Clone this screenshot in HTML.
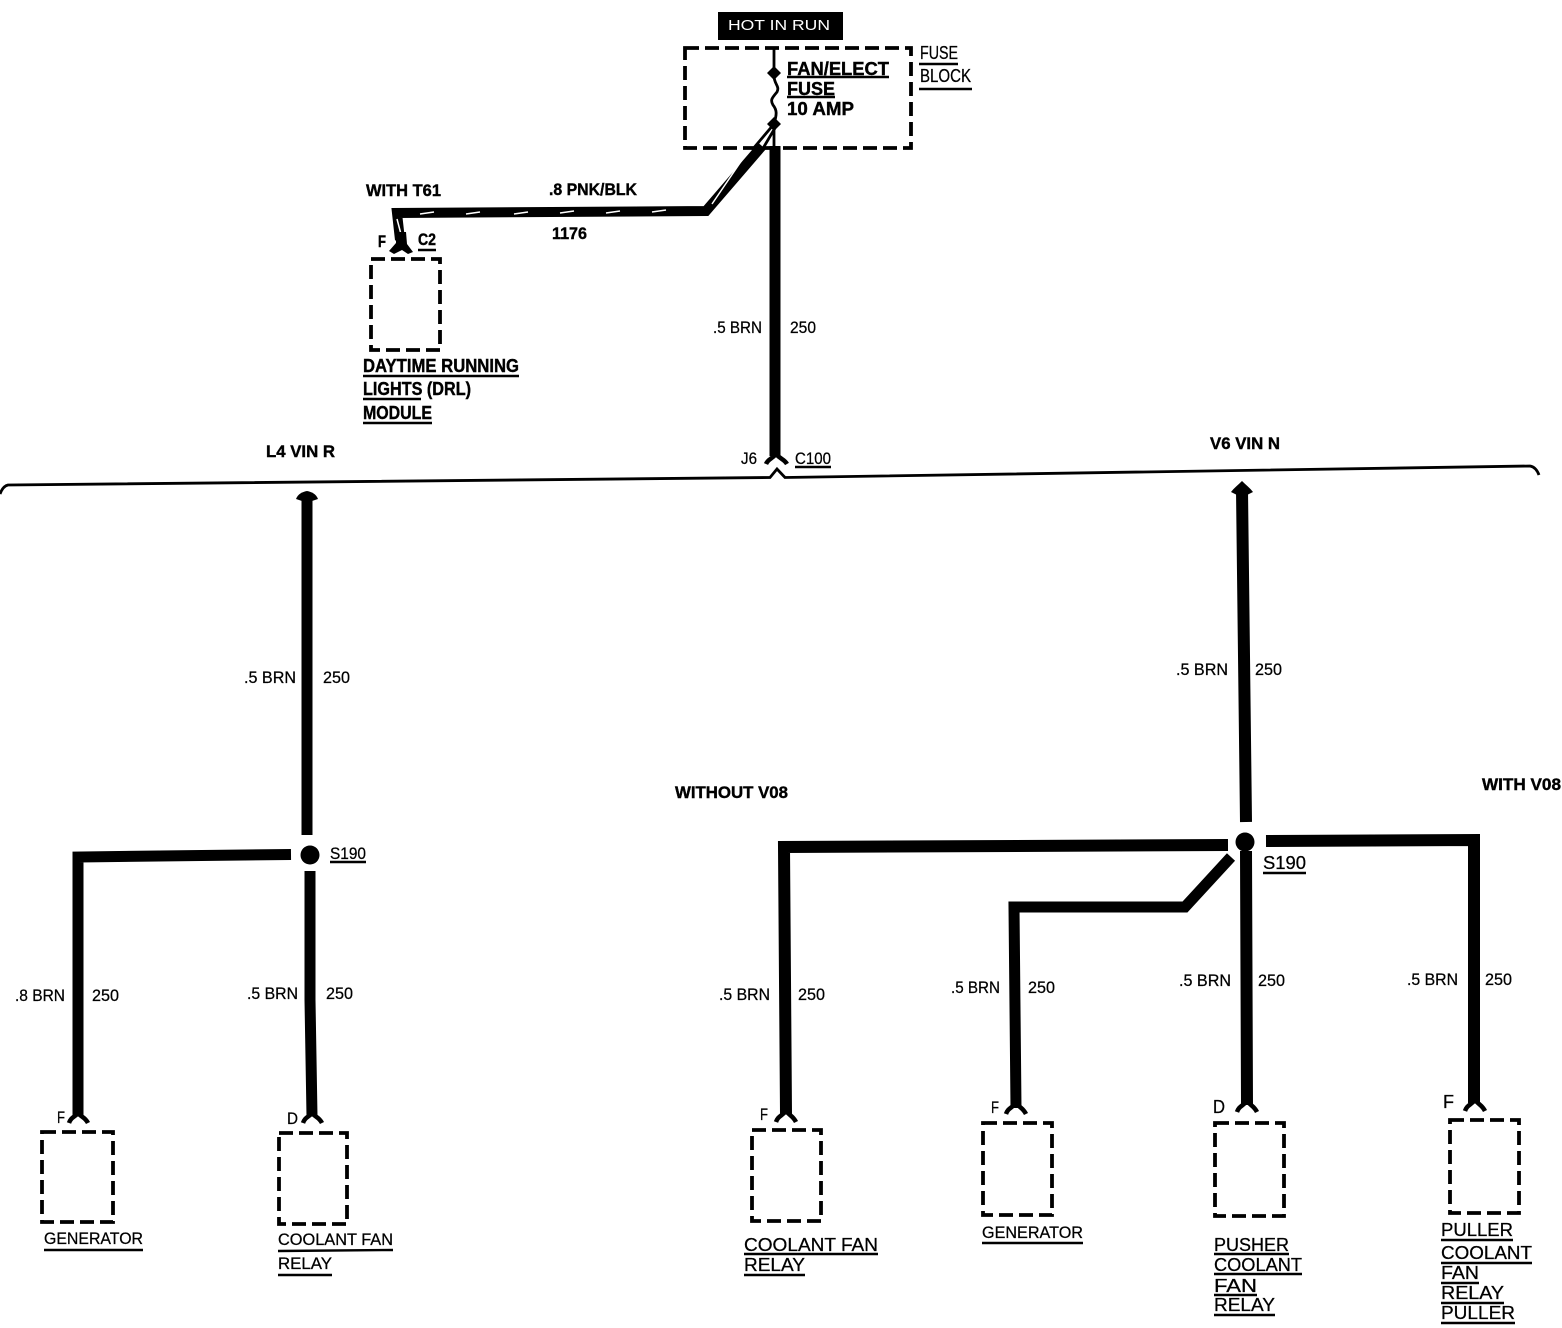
<!DOCTYPE html>
<html><head><meta charset="utf-8"><style>
html,body{margin:0;padding:0;background:#fff}
svg{display:block}
text{font-family:"Liberation Sans",sans-serif;font-size:16.500px;fill:#000;stroke:#000;stroke-width:.25}
.b{font-weight:bold;stroke-width:.4}
.l{font-size:18px}
.w{fill:none;stroke:#000;stroke-width:11}
.d{fill:none;stroke:#000;stroke-width:3.800;stroke-dasharray:14 6}
.u{fill:none;stroke:#000;stroke-width:2.400}
.f{fill:none;stroke:#000;stroke-width:4.500}
</style></head><body>
<svg width="1562" height="1328" viewBox="0 0 1562 1328" xmlns="http://www.w3.org/2000/svg">
<rect width="1562" height="1328" fill="#fff"/>
<!-- top -->
<rect x="718" y="12" width="125" height="28" fill="#000"/>
<text x="728" y="30" textLength="102" lengthAdjust="spacingAndGlyphs" style="fill:#fff;stroke:none;font-size:15px">HOT IN RUN</text>
<rect class="d" x="685" y="48" width="226" height="100"/>
<path d="M774 48V70M774 76C774 84 780 86 777 92C772 98 770 100 773 105C777 110 777 114 774 124V148M774 124L752 150M775 128L762 150" fill="none" stroke="#000" stroke-width="2.800"/>
<path d="M774 66L781 73L774 80L767 73ZM774 117L781 124L774 131L767 124Z"/>
<path class="w" d="M775 146V456"/>
<path class="f" d="M766 464C768 459 772 459 776 454C780 459 784 459 787 464"/>
<path d="M0 494Q3 486 8 485L770 477.500L777 469L785 477.500L1530 466Q1536 467 1539 475" fill="none" stroke="#000" stroke-width="2.800"/>
<!-- DRL wire -->
<path d="M762 146L706 211L397 213L400 240" fill="none" stroke="#000" stroke-width="10"/>
<path d="M744 157L712 204M397 219L402 238" fill="none" stroke="#fff" stroke-width="1.500"/>
<path d="M420 214l14 -2M466 214l14 -2M514 214l14 -2M560 213l14 -2M606 213l14 -2M652 212l14 -2" stroke="#fff" stroke-width="1.500"/>
<path d="M396 232L406 232L407 244L413 252L408 254L402 250L394 254L389 251L396 243Z"/>
<rect class="d" x="371" y="259" width="69" height="91"/>
<!-- left -->
<path class="w" d="M307 495V835"/>
<path d="M296 499C298 494 302 492 307 491C312 492 316 494 318 499L312 501H302Z"/>
<circle cx="310" cy="855" r="9.500"/>
<path class="w" d="M291 854.500L78 857V1116M310 871V1000L312 1116"/>
<path class="f" d="M69 1123C71 1117 75 1117 78 1113C81 1117 85 1117 88 1123"/>
<path class="f" d="M303 1123C305 1117 309 1117 312 1113C315 1117 319 1117 322 1123"/>
<rect class="d" x="42" y="1132" width="71" height="90"/>
<rect class="d" x="279" y="1133" width="68" height="91"/>
<!-- right -->
<path d="M1242 490L1246 822M1266 841L1474 840V1103M1228 845L784 847L786 1114M1246 851L1247 1105" fill="none" stroke="#000" stroke-width="12"/>
<path d="M1231 492C1234 488 1238 485 1242 481C1246 485 1250 488 1253 492L1247 495H1237Z"/>
<circle cx="1245" cy="842" r="9.500"/>
<path d="M1231 857L1185 907L1014 907L1016 1108" fill="none" stroke="#000" stroke-width="11"/>
<path class="f" d="M776 1122C778 1116 782 1116 786 1111C790 1116 793 1116 796 1122"/>
<path class="f" d="M1006 1114C1008 1108 1012 1108 1016 1103C1020 1108 1023 1108 1026 1114"/>
<path class="f" d="M1237 1112C1239 1106 1243 1106 1247 1101C1251 1106 1254 1106 1257 1112"/>
<path class="f" d="M1465 1111C1467 1105 1471 1105 1475 1100C1479 1105 1482 1105 1485 1111"/>
<rect class="d" x="752" y="1130" width="69" height="91"/>
<rect class="d" x="983" y="1123" width="69" height="92"/>
<rect class="d" x="1215" y="1123" width="69" height="93"/>
<rect class="d" x="1450" y="1120" width="69" height="93"/>
<!-- text -->
<text class="l" x="920" y="59" textLength="38" lengthAdjust="spacingAndGlyphs">FUSE</text>
<text class="l" x="920" y="82" textLength="51" lengthAdjust="spacingAndGlyphs">BLOCK</text>
<text class="l b" x="787" y="75" textLength="102" lengthAdjust="spacingAndGlyphs">FAN/ELECT</text>
<text class="l b" x="787" y="95" textLength="48" lengthAdjust="spacingAndGlyphs">FUSE</text>
<text class="l b" x="787" y="115" textLength="67" lengthAdjust="spacingAndGlyphs">10 AMP</text>
<text class="b" x="366" y="196" textLength="75" lengthAdjust="spacingAndGlyphs">WITH T61</text>
<text class="b" x="549" y="195" textLength="88" lengthAdjust="spacingAndGlyphs">.8 PNK/BLK</text>
<text class="b" x="552" y="239" textLength="35" lengthAdjust="spacingAndGlyphs">1176</text>
<text class="b" x="378" y="247" textLength="8" lengthAdjust="spacingAndGlyphs">F</text>
<text class="b" x="418" y="245" textLength="18" lengthAdjust="spacingAndGlyphs">C2</text>
<text x="713" y="333" textLength="49" lengthAdjust="spacingAndGlyphs">.5 BRN</text>
<text x="790" y="333" textLength="26" lengthAdjust="spacingAndGlyphs">250</text>
<text class="l b" x="363" y="372" textLength="156" lengthAdjust="spacingAndGlyphs">DAYTIME RUNNING</text>
<text class="l b" x="363" y="395" textLength="108" lengthAdjust="spacingAndGlyphs">LIGHTS (DRL)</text>
<text class="l b" x="363" y="419" textLength="69" lengthAdjust="spacingAndGlyphs">MODULE</text>
<text class="b" x="266" y="457" textLength="69" lengthAdjust="spacingAndGlyphs">L4 VIN R</text>
<text x="741" y="464" textLength="16" lengthAdjust="spacingAndGlyphs">J6</text>
<text x="795" y="464" textLength="36" lengthAdjust="spacingAndGlyphs">C100</text>
<text class="b" x="1210" y="449" textLength="70" lengthAdjust="spacingAndGlyphs">V6 VIN N</text>
<text x="244" y="683" textLength="52" lengthAdjust="spacingAndGlyphs">.5 BRN</text>
<text x="323" y="683" textLength="27" lengthAdjust="spacingAndGlyphs">250</text>
<text x="1176" y="675" textLength="52" lengthAdjust="spacingAndGlyphs">.5 BRN</text>
<text x="1255" y="675" textLength="27" lengthAdjust="spacingAndGlyphs">250</text>
<text x="330" y="859" textLength="36" lengthAdjust="spacingAndGlyphs">S190</text>
<text x="15" y="1001" textLength="50" lengthAdjust="spacingAndGlyphs">.8 BRN</text>
<text x="92" y="1001" textLength="27" lengthAdjust="spacingAndGlyphs">250</text>
<text x="247" y="999" textLength="51" lengthAdjust="spacingAndGlyphs">.5 BRN</text>
<text x="326" y="999" textLength="27" lengthAdjust="spacingAndGlyphs">250</text>
<text x="57" y="1123" textLength="8" lengthAdjust="spacingAndGlyphs">F</text>
<text x="287" y="1124" textLength="11" lengthAdjust="spacingAndGlyphs">D</text>
<text x="44" y="1244" textLength="99" lengthAdjust="spacingAndGlyphs">GENERATOR</text>
<text x="278" y="1245" textLength="115" lengthAdjust="spacingAndGlyphs">COOLANT FAN</text>
<text x="278" y="1269" textLength="54" lengthAdjust="spacingAndGlyphs">RELAY</text>
<text class="b" x="675" y="798" textLength="113" lengthAdjust="spacingAndGlyphs">WITHOUT V08</text>
<text class="b" x="1482" y="790" textLength="79" lengthAdjust="spacingAndGlyphs">WITH V08</text>
<text class="l" x="1263" y="869" textLength="43" lengthAdjust="spacingAndGlyphs">S190</text>
<text x="719" y="1000" textLength="51" lengthAdjust="spacingAndGlyphs">.5 BRN</text>
<text x="798" y="1000" textLength="27" lengthAdjust="spacingAndGlyphs">250</text>
<text x="951" y="993" textLength="49" lengthAdjust="spacingAndGlyphs">.5 BRN</text>
<text x="1028" y="993" textLength="27" lengthAdjust="spacingAndGlyphs">250</text>
<text x="1179" y="986" textLength="52" lengthAdjust="spacingAndGlyphs">.5 BRN</text>
<text x="1258" y="986" textLength="27" lengthAdjust="spacingAndGlyphs">250</text>
<text x="1407" y="985" textLength="51" lengthAdjust="spacingAndGlyphs">.5 BRN</text>
<text x="1485" y="985" textLength="27" lengthAdjust="spacingAndGlyphs">250</text>
<text x="760" y="1120" textLength="8" lengthAdjust="spacingAndGlyphs">F</text>
<text x="991" y="1113" textLength="8" lengthAdjust="spacingAndGlyphs">F</text>
<text class="l" x="1213" y="1113" textLength="12" lengthAdjust="spacingAndGlyphs">D</text>
<text class="l" x="1443" y="1108" textLength="11" lengthAdjust="spacingAndGlyphs">F</text>
<text class="l" x="744" y="1251" textLength="134" lengthAdjust="spacingAndGlyphs">COOLANT FAN</text>
<text class="l" x="744" y="1271" textLength="61" lengthAdjust="spacingAndGlyphs">RELAY</text>
<text x="982" y="1238" textLength="101" lengthAdjust="spacingAndGlyphs">GENERATOR</text>
<text class="l" x="1214" y="1251" textLength="75" lengthAdjust="spacingAndGlyphs">PUSHER</text>
<text class="l" x="1214" y="1271" textLength="88" lengthAdjust="spacingAndGlyphs">COOLANT</text>
<text class="l" x="1214" y="1292" textLength="43" lengthAdjust="spacingAndGlyphs">FAN</text>
<text class="l" x="1214" y="1311" textLength="61" lengthAdjust="spacingAndGlyphs">RELAY</text>
<text class="l" x="1441" y="1236" textLength="72" lengthAdjust="spacingAndGlyphs">PULLER</text>
<text class="l" x="1441" y="1259" textLength="91" lengthAdjust="spacingAndGlyphs">COOLANT</text>
<text class="l" x="1441" y="1279" textLength="38" lengthAdjust="spacingAndGlyphs">FAN</text>
<text class="l" x="1441" y="1299" textLength="63" lengthAdjust="spacingAndGlyphs">RELAY</text>
<text class="l" x="1441" y="1319" textLength="74" lengthAdjust="spacingAndGlyphs">PULLER</text>
<!-- underlines -->
<path class="u" d="M919 64H958M919 89H972M787 77H889M787 97H835M418 250H436M363 376H519M363 399H421M363 423H432M795 467H831M330 862H366M1263 873H1306M44 1250H143M278 1251L393 1250M278 1275H332M744 1254H878M744 1275H805M982 1243H1083M1214 1254H1289M1214 1274H1302M1214 1295H1257M1214 1315H1275M1441 1240H1513M1441 1263H1532M1441 1283H1479M1441 1303H1504M1441 1323H1515"/>
</svg>
</body></html>
